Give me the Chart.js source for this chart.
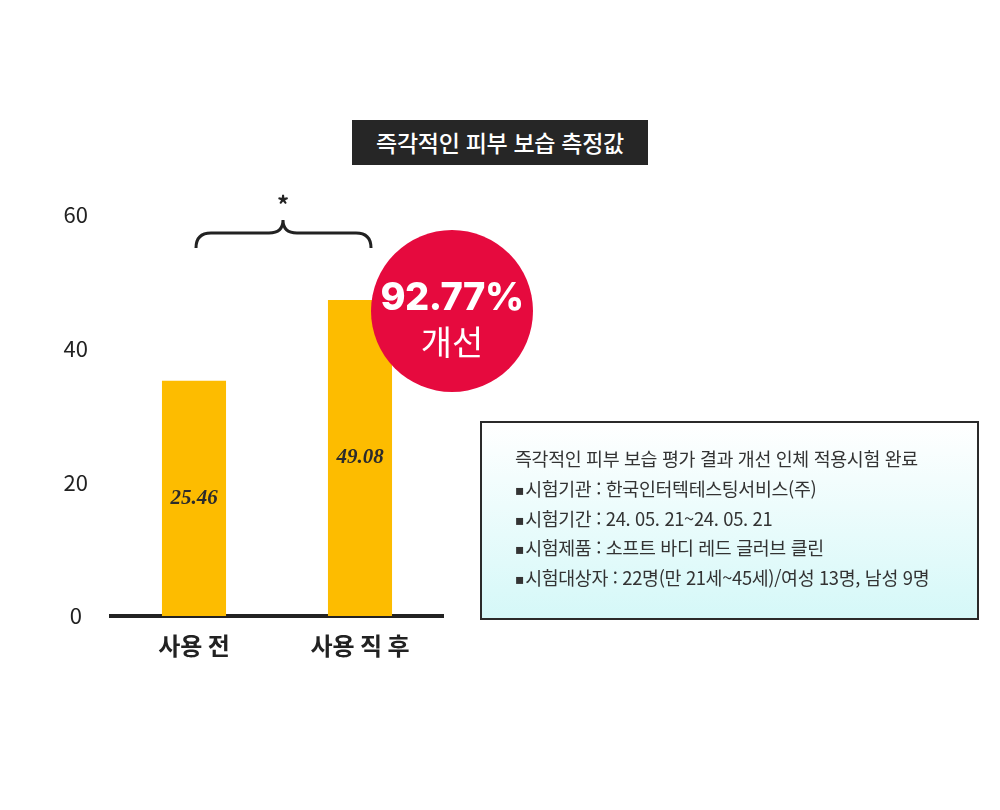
<!DOCTYPE html>
<html lang="ko">
<head>
<meta charset="utf-8">
<script src="https://cdn.jsdelivr.net/npm/chart.js@4.4.1/dist/chart.umd.min.js"></script>
<style>
  html, body { margin: 0; padding: 0; background: #ffffff; }
  #wrap { position: relative; width: 1000px; height: 810px; overflow: hidden; font-family: "Noto Sans CJK KR", "Noto Sans", sans-serif; }
  #c { position: absolute; left: 0; top: 0; }
  #title { position: absolute; left: 352px; top: 120px; width: 296px; height: 45px; background: #262626; color: #fff;
           font-size: 23px; font-weight: 500; line-height: 45px; text-align: center; letter-spacing: -0.3px; }
  #badge { position: absolute; left: 371px; top: 230px; width: 162px; height: 162px; border-radius: 50%; background: #E60A3E;
           color: #fff; text-align: center; }
  #badge .pct { position: absolute; left: 0; right: 0; top: 47px; font-size: 38px; font-weight: 800; line-height: 1; letter-spacing: -0.5px; font-family: "Inter", "Noto Sans", sans-serif; }
  #badge .imp { position: absolute; left: 0; right: 0; top: 94px; font-size: 34px; font-weight: 400; line-height: 1; }
  #info { position: absolute; left: 480px; top: 421px; width: 495px; height: 195px; border: 2px solid #2a2a2a;
          background: linear-gradient(to bottom, #ffffff 0%, #d5f8f8 100%); color: #333; font-size: 18.4px; }
  #info .lines { position: absolute; left: 33px; top: 21px; letter-spacing: -0.35px; white-space: nowrap; }
  #info .ln { height: 29.8px; line-height: 29.8px; overflow: visible; }
  #info .b { font-family: "DejaVu Sans", sans-serif; font-size: 14px; line-height: 0; margin-right: 1px; position: relative; top: -1px; }
  #brace { position: absolute; left: 0; top: 0; }
</style>
</head>
<body>
<div id="wrap">
  <canvas id="c" width="1000" height="810"></canvas>
  <svg id="brace" width="1000" height="810">
    <path d="M196,248 Q196,233 211,233 L269,233 Q283,233 283,220 Q283,233 297,233 L356,233 Q371,233 371,248" fill="none" stroke="#222" stroke-width="3"/>
    <text x="283" y="214" text-anchor="middle" font-size="24" font-weight="700" fill="#222" font-family="Noto Sans CJK KR">*</text>
  </svg>
  <div id="title">즉각적인 피부 보습 측정값</div>
  <div id="badge"><div class="pct">92.77%</div><div class="imp">개선</div></div>
  <div id="info"><div class="lines">
    <div class="ln">즉각적인 피부 보습 평가 결과 개선 인체 적용시험 완료</div>
    <div class="ln"><span class="b">▪</span>시험기관 : 한국인터텍테스팅서비스(주)</div>
    <div class="ln"><span class="b">▪</span>시험기간 : 24. 05. 21~24. 05. 21</div>
    <div class="ln"><span class="b">▪</span>시험제품 : 소프트 바디 레드 글러브 클린</div>
    <div class="ln"><span class="b">▪</span>시험대상자 : 22명(만 21세~45세)/여성 13명, 남성 9명</div>
  </div></div>
</div>
<script>
const categories = ["사용 전", "사용 직 후"];
const barValues = [35.2, 47.3];
const valueLabels = ["25.46", "49.08"];
const yTicks = [0, 20, 40, 60];

const valueLabelPlugin = {
  id: 'valueLabels',
  afterDatasetsDraw(chart) {
    const ctx = chart.ctx;
    const meta = chart.getDatasetMeta(0);
    ctx.save();
    ctx.font = 'italic bold 21px "Liberation Serif", serif';
    ctx.fillStyle = '#2b2b2b';
    ctx.textAlign = 'center';
    ctx.textBaseline = 'middle';
    meta.data.forEach((bar, i) => {
      ctx.fillText(valueLabels[i], bar.x, (bar.y + bar.base) / 2);
    });
    ctx.restore();
  }
};

new Chart(document.getElementById('c'), {
  type: 'bar',
  data: {
    labels: categories,
    datasets: [{
      data: barValues,
      backgroundColor: '#FDBC00',
      borderWidth: 0,
      categoryPercentage: 1,
      barPercentage: 0.386
    }]
  },
  options: {
    responsive: false,
    animation: false,
    events: [],
    layout: { padding: { top: 215, right: 557, bottom: 0, left: 0 } },
    plugins: { legend: { display: false }, tooltip: { enabled: false } },
    scales: {
      x: {
        grid: { display: false, drawTicks: false },
        border: { display: true, width: 4, color: '#222' },
        ticks: { color: '#222', font: { family: '"Noto Sans CJK KR"', size: 24, weight: 'bold' }, padding: 15 },
        afterFit(scale) { scale.height = 194; }
      },
      y: {
        min: 0, max: 60,
        afterBuildTicks(scale) { scale.ticks = yTicks.map(v => ({ value: v })); },
        grid: { display: false, drawTicks: false },
        border: { display: false },
        ticks: { color: '#222', font: { family: '"Noto Sans CJK KR"', size: 22 }, padding: 23, crossAlign: 'center' },
        afterFit(scale) { scale.width = 111; }
      }
    }
  },
  plugins: [valueLabelPlugin]
});
</script>
</body>
</html>
